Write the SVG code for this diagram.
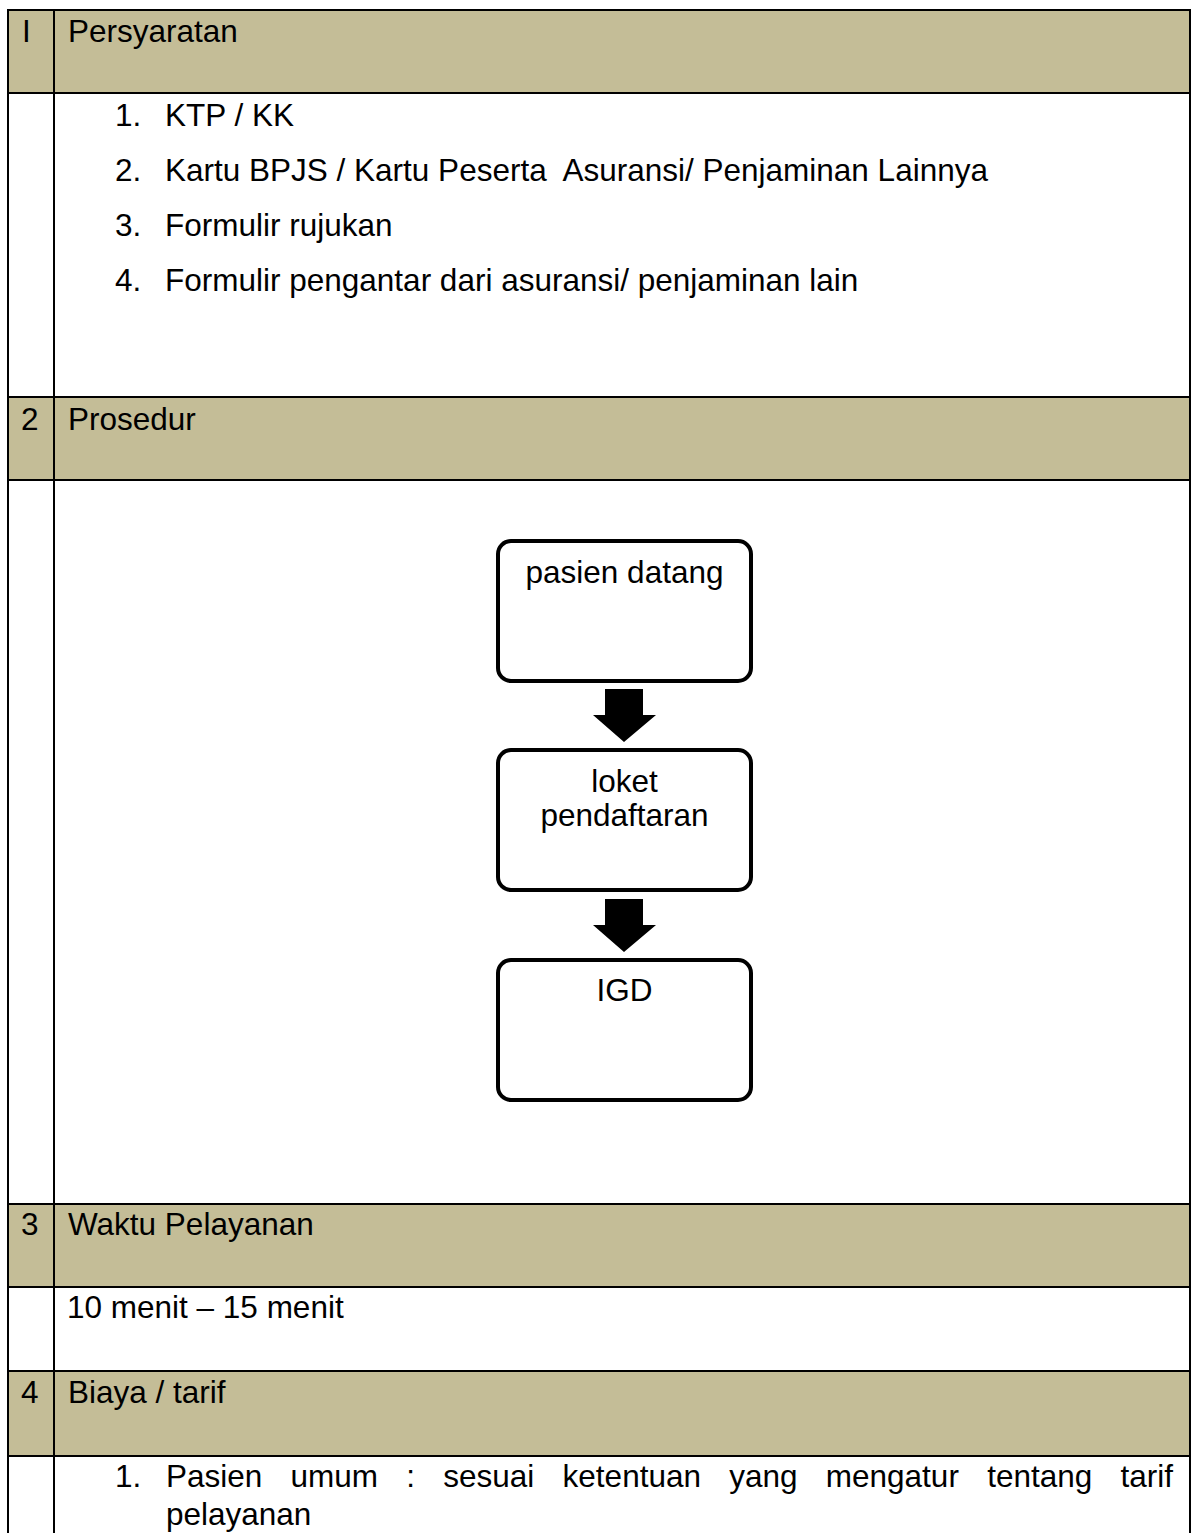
<svg xmlns="http://www.w3.org/2000/svg" width="1192" height="1533" viewBox="0 0 1192 1533">
  <style>
    .txt { font-family: "Liberation Sans", Arial, sans-serif; font-size: 31.5px; fill: #000; }
    .mid { text-anchor: middle; }
    .hdr { fill: #C4BD97; }
    .grid { stroke: #000; stroke-width: 2; fill: none; }
    .box { fill: #fff; stroke: #000; stroke-width: 4; }
    .blk { fill: #000; }
  </style>
  <rect x="0" y="0" width="1192" height="1533" fill="#fff"/>

  <!-- header band fills -->
  <g id="header-bands">
    <rect class="hdr" x="8" y="10" width="1182" height="83"/>
    <rect class="hdr" x="8" y="397" width="1182" height="83"/>
    <rect class="hdr" x="8" y="1204" width="1182" height="83"/>
    <rect class="hdr" x="8" y="1371" width="1182" height="85"/>
  </g>

  <!-- table grid -->
  <g id="table-grid" class="grid">
    <line x1="8" y1="10" x2="8" y2="1533"/>
    <line x1="54" y1="10" x2="54" y2="1533"/>
    <line x1="1190" y1="10" x2="1190" y2="1533"/>
    <line x1="7" y1="10" x2="1191" y2="10"/>
    <line x1="7" y1="93" x2="1191" y2="93"/>
    <line x1="7" y1="397" x2="1191" y2="397"/>
    <line x1="7" y1="480" x2="1191" y2="480"/>
    <line x1="7" y1="1204" x2="1191" y2="1204"/>
    <line x1="7" y1="1287" x2="1191" y2="1287"/>
    <line x1="7" y1="1371" x2="1191" y2="1371"/>
    <line x1="7" y1="1456" x2="1191" y2="1456"/>
  </g>

  <!-- section 1: requirements -->
  <g id="sec-persyaratan">
    <text class="txt" x="22" y="42">I</text>
    <text class="txt" x="68" y="42">Persyaratan</text>
    <text class="txt" x="115" y="126">1.</text>
    <text class="txt" x="165" y="126">KTP / KK</text>
    <text class="txt" x="115" y="181">2.</text>
    <text class="txt" x="165" y="181" xml:space="preserve">Kartu BPJS / Kartu Peserta  Asuransi/ Penjaminan Lainnya</text>
    <text class="txt" x="115" y="236">3.</text>
    <text class="txt" x="165" y="236">Formulir rujukan</text>
    <text class="txt" x="115" y="291">4.</text>
    <text class="txt" x="165" y="291">Formulir pengantar dari asuransi/ penjaminan lain</text>
  </g>

  <!-- section 2: procedure -->
  <g id="sec-prosedur">
    <text class="txt" x="21" y="430">2</text>
    <text class="txt" x="68" y="430">Prosedur</text>
  </g>

  <!-- flowchart nodes -->
  <g id="node-pasien-datang">
    <rect class="box" x="498" y="541" width="253" height="140" rx="13"/>
    <text class="txt mid" x="624.5" y="583">pasien datang</text>
  </g>
  <g id="node-loket-pendaftaran">
    <rect class="box" x="498" y="750" width="253" height="140" rx="13"/>
    <text class="txt mid" x="624.5" y="792">loket</text>
    <text class="txt mid" x="624.5" y="826">pendaftaran</text>
  </g>
  <g id="node-igd">
    <rect class="box" x="498" y="960" width="253" height="140" rx="13"/>
    <text class="txt mid" x="624.5" y="1001">IGD</text>
  </g>

  <!-- block arrows between steps -->
  <g id="connectors">
    <polygon class="blk" points="605,689 643,689 643,715 656,715 624,742 593,715 605,715"/>
    <polygon class="blk" points="605,899 643,899 643,925 656,925 624,952 593,925 605,925"/>
  </g>

  <!-- section 3: service time -->
  <g id="sec-waktu">
    <text class="txt" x="21" y="1235">3</text>
    <text class="txt" x="68" y="1235">Waktu Pelayanan</text>
    <text class="txt" x="67" y="1318">10 menit – 15 menit</text>
  </g>

  <!-- section 4: cost / tariff (justified first line, equal word gaps) -->
  <g id="sec-biaya">
    <text class="txt" x="21" y="1403">4</text>
    <text class="txt" x="68" y="1403">Biaya / tarif</text>
    <text class="txt" x="115" y="1487">1.</text>
    <text class="txt" y="1487"><tspan x="166">Pasien</tspan><tspan x="290.6">umum</tspan><tspan x="406.3">:</tspan><tspan x="443.3">sesuai</tspan><tspan x="562.6">ketentuan</tspan><tspan x="729.2">yang</tspan><tspan x="825.8">mengatur</tspan><tspan x="987.2">tentang</tspan><tspan x="1120.5">tarif</tspan></text>
    <text class="txt" x="166" y="1525">pelayanan</text>
  </g>
</svg>
